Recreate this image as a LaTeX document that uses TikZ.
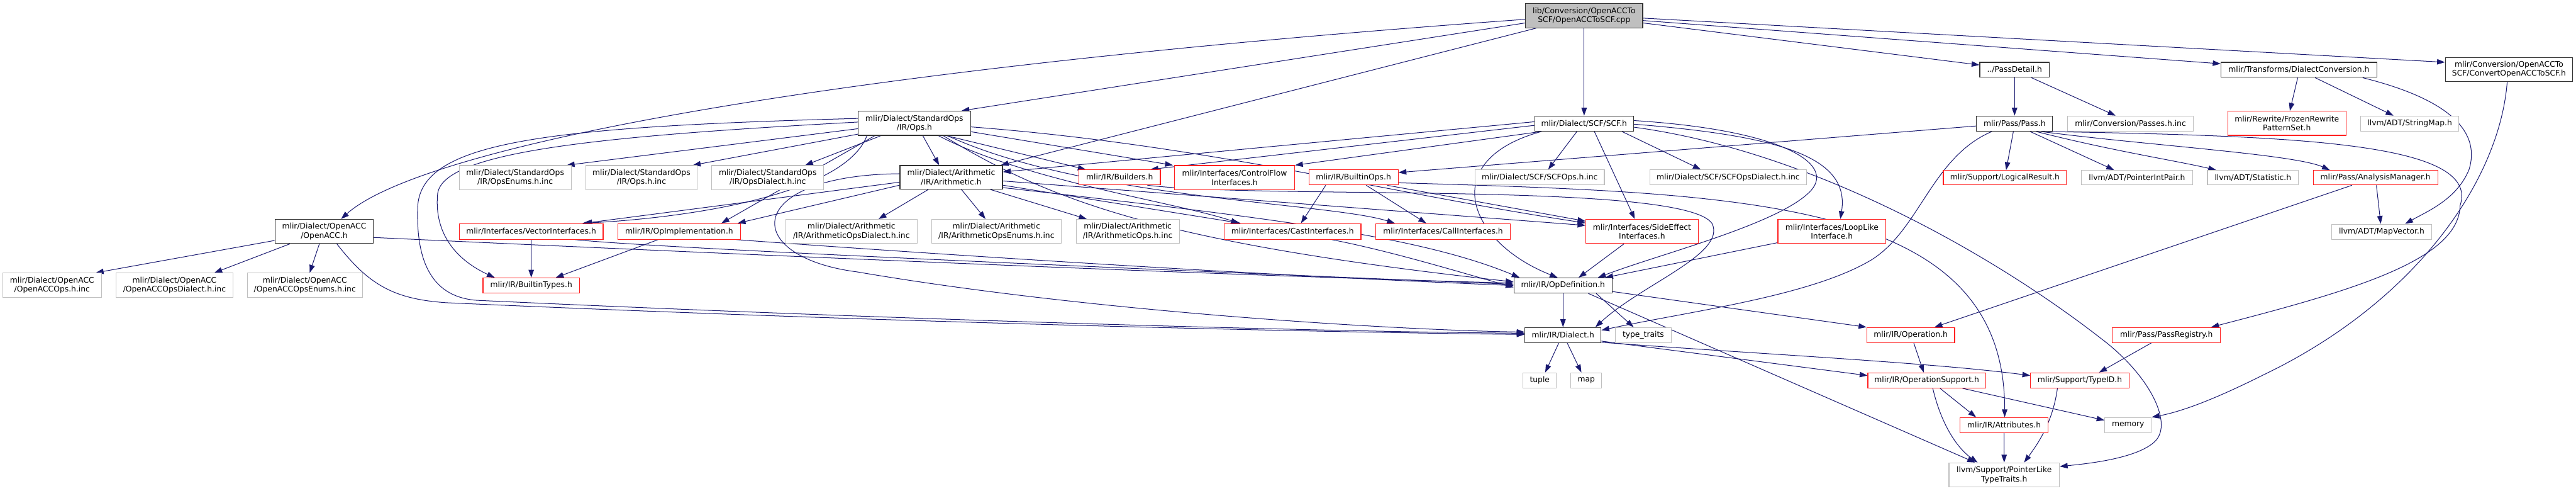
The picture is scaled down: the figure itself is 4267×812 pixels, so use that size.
\documentclass[tikz,border=0pt]{standalone}
\usepackage{fontspec}
\newfontfamily\dv{DejaVu Sans}
\usetikzlibrary{arrows.meta,calc,backgrounds}
\definecolor{eb}{HTML}{191970}
\definecolor{gb}{HTML}{BFBFBF}
\definecolor{rb}{HTML}{FF2020}
\begin{document}
\begin{tikzpicture}[x=1pt,y=-1pt,
  bx/.style={rectangle, inner sep=0pt, align=center, fill=white, text=black,
     font=\dv\fontsize{12.85pt}{15pt}\selectfont},
  nb/.style={bx, draw=black!80, line width=1.3pt},
  ng/.style={bx, draw=gb, line width=1.2pt},
  nr/.style={bx, draw=rb, line width=1.2pt},
  e/.style={draw=eb, line width=1.05pt, -{Triangle[length=13pt,width=9pt]}},
  sz/.style 2 args={minimum width=#1pt, minimum height=#2pt}
]
\useasboundingbox (0,0) rectangle (4267,812);

% ---------- nodes ----------
\node[nb, fill=gb, sz={194}{40}] (top) at (2624,26) {lib/Conversion/OpenACCTo\\SCF/OpenACCToSCF.cpp};
\node[nb, sz={163}{40}] (acc) at (537,383) {mlir/Dialect/OpenACC\\/OpenACC.h};
\node[nb, sz={186}{40}] (std) at (1514.6,204) {mlir/Dialect/StandardOps\\/IR/Ops.h};
\node[nb, sz={170}{39}] (arith) at (1575.6,293.5) {mlir/Dialect/Arithmetic\\/IR/Arithmetic.h};
\node[nb, sz={164}{25}] (scf) at (2624,204.5) {mlir/Dialect/SCF/SCF.h};
\node[nb, sz={115}{25}] (pd) at (3337,115.5) {../PassDetail.h};
\node[nb, sz={258}{25}] (dc) at (3808,115.5) {mlir/Transforms/DialectConversion.h};
\node[nb, sz={211}{40}] (conv) at (4156,115) {mlir/Conversion/OpenACCTo\\SCF/ConvertOpenACCToSCF.h};
\node[nb, sz={126}{25}] (pass) at (3337,204.5) {mlir/Pass/Pass.h};
\node[ng, sz={208}{25}] (passesinc) at (3529,204.5) {mlir/Conversion/Passes.h.inc};
\node[nr, sz={196}{40}] (frozen) at (3788,204) {mlir/Rewrite/FrozenRewrite\\PatternSet.h};
\node[ng, sz={162.5}{25}] (strmap) at (3991.6,204.5) {llvm/ADT/StringMap.h};
\node[ng, sz={185.5}{40}] (stdEnums) at (853.4,294) {mlir/Dialect/StandardOps\\/IR/OpsEnums.h.inc};
\node[ng, sz={185}{40}] (stdOpsinc) at (1062.5,294) {mlir/Dialect/StandardOps\\/IR/Ops.h.inc};
\node[ng, sz={185.5}{40}] (stdDialect) at (1271.7,294) {mlir/Dialect/StandardOps\\/IR/OpsDialect.h.inc};
\node[nr, sz={135}{25}] (builders) at (1854.5,293.5) {mlir/IR/Builders.h};
\node[nr, sz={199}{40}] (cfi) at (2045,294) {mlir/Interfaces/ControlFlow\\Interfaces.h};
\node[nr, sz={148}{25}] (builtinops) at (2242,293.5) {mlir/IR/BuiltinOps.h};
\node[ng, sz={214}{25}] (scfops) at (2550.5,293.5) {mlir/Dialect/SCF/SCFOps.h.inc};
\node[ng, sz={259.6}{25}] (scfdialect) at (2862.6,293.5) {mlir/Dialect/SCF/SCFOpsDialect.h.inc};
\node[nr, sz={204}{24}] (logres) at (3321,294) {mlir/Support/LogicalResult.h};
\node[ng, sz={184.5}{24}] (pip) at (3539.8,294) {llvm/ADT/PointerIntPair.h};
\node[ng, sz={150.7}{24}] (stat) at (3731.9,294) {llvm/ADT/Statistic.h};
\node[nr, sz={206.4}{24}] (am) at (3934.9,294) {mlir/Pass/AnalysisManager.h};
\node[nr, sz={238.4}{26}] (vec) at (879.8,383) {mlir/Interfaces/VectorInterfaces.h};
\node[nr, sz={202.5}{26}] (opimpl) at (1125,383) {mlir/IR/OpImplementation.h};
\node[ng, sz={217.4}{40}] (arDialect) at (1410.3,383) {mlir/Dialect/Arithmetic\\/IR/ArithmeticOpsDialect.h.inc};
\node[ng, sz={215}{40}] (arEnums) at (1650.5,383) {mlir/Dialect/Arithmetic\\/IR/ArithmeticOpsEnums.h.inc};
\node[ng, sz={171}{40}] (arOps) at (1868,383) {mlir/Dialect/Arithmetic\\/IR/ArithmeticOps.h.inc};
\node[nr, sz={226.6}{26}] (cast) at (2141,383) {mlir/Interfaces/CastInterfaces.h};
\node[nr, sz={222.8}{26}] (call) at (2390.4,383) {mlir/Interfaces/CallInterfaces.h};
\node[nr, sz={186.3}{40}] (side) at (2719.9,383) {mlir/Interfaces/SideEffect\\Interfaces.h};
\node[nr, sz={178.7}{40}] (loop) at (3034.4,383) {mlir/Interfaces/LoopLike\\Interface.h};
\node[ng, sz={165}{25}] (mapvec) at (3945,383.5) {llvm/ADT/MapVector.h};
\node[ng, sz={163.4}{40}] (accOps) at (86.3,472) {mlir/Dialect/OpenACC\\/OpenACCOps.h.inc};
\node[ng, sz={194}{40}] (accDialect) at (289,472) {mlir/Dialect/OpenACC\\/OpenACCOpsDialect.h.inc};
\node[ng, sz={191}{40}] (accEnums) at (505,472) {mlir/Dialect/OpenACC\\/OpenACCOpsEnums.h.inc};
\node[nr, sz={160}{25}] (btypes) at (880,472.5) {mlir/IR/BuiltinTypes.h};
\node[nb, sz={162.6}{25}] (opdef) at (2589,472.5) {mlir/IR/OpDefinition.h};
\node[nb, sz={126}{25}] (dialect) at (2589,554.5) {mlir/IR/Dialect.h};
\node[ng, sz={92.6}{25}] (tt) at (2722,554.5) {type\_traits};
\node[ng, sz={55}{25}] (tuple) at (2550.5,629.5) {tuple};
\node[ng, sz={51}{25}] (map) at (2627.5,629.5) {map};
\node[nr, sz={145.5}{25}] (operation) at (3165,554.5) {mlir/IR/Operation.h};
\node[nr, sz={179}{25}] (preg) at (3588.5,554.5) {mlir/Pass/PassRegistry.h};
\node[nr, sz={195}{25}] (opsupport) at (3191.5,629.5) {mlir/IR/OperationSupport.h};
\node[nr, sz={163}{25}] (typeid) at (3445,629.5) {mlir/Support/TypeID.h};
\node[nr, sz={145.6}{25}] (attrs) at (3319.6,703.5) {mlir/IR/Attributes.h};
\node[ng, sz={77}{25}] (memory) at (3525,703.5) {memory};
\node[ng, sz={183}{40}] (plt) at (3319.8,786) {llvm/Support/PointerLike\\TypeTraits.h};

% ---------- edges ----------
\begin{pgfonlayer}{background}
% top
\draw[e] ($(top.west)+(0,6)$) .. controls (1300,120) and (690,250) .. ($(acc.north)+(28,0)$);
\draw[e] ($(top.west)+(0,12)$) -- ($(std.north)+(78,0)$);
\draw[e] ($(top.south west)+(18,0)$) -- ($(arith.north)+(82,0)$);
\draw[e] (top) -- (scf);
\draw[e] ($(top.east)+(0,4)$) -- ($(conv.west)+(0,-12)$);
\draw[e] ($(top.east)+(0,8)$) -- ($(dc.west)+(0,-10)$);
\draw[e] ($(top.east)+(0,12)$) -- ($(pd.west)+(0,-8)$);
% acc
\draw[e] ($(acc.west)+(0,15)$) -- ($(accOps.north east)+(-10,0)$);
\draw[e] ($(acc.south)+(-57,0)$) -- ($(accDialect.north)+(66,0)$);
\draw[e] ($(acc.south)+(-8,0)$) -- ($(accEnums.north)+(8,0)$);
\draw[e] ($(acc.south)+(21,0)$) .. controls (610,470) and (650,495) .. (740,501) .. controls (1500,535) and (2200,550) .. ($(dialect.west)+(0,-1)$);
\draw[e] ($(acc.east)+(0,10)$) .. controls (1200,420) and (2000,455) .. ($(opdef.west)+(0,-4)$);
% std
\draw[e] ($(std.west)+(0,9)$) -- ($(stdEnums.north east)+(-8,0)$);
\draw[e] ($(std.west)+(0,18)$) -- ($(stdOpsinc.north east)+(-8,0)$);
\draw[e] ($(std.south west)+(38,0)$) -- ($(stdDialect.north)+(62,0)$);
\draw[e] ($(std.south)+(14,0)$) -- ($(arith.north)+(-20,0)$);
\draw[e] ($(std.south east)+(-40,0)$) -- ($(builders.north west)+(12,0)$);
\draw[e] ($(std.east)+(0,14)$) -- ($(cfi.north west)+(-2,0)$);
\draw[e] ($(std.west)+(0,-2)$) .. controls (1000,225) and (735,250) .. (725,320) .. controls (718,390) and (760,432) .. ($(btypes.north west)+(20,0)$);
\draw[e] ($(std.west)+(0,-8)$) .. controls (900,210) and (700,235) .. (692,340) .. controls (688,440) and (720,492) .. (790,497) .. controls (1500,530) and (2200,549) .. ($(dialect.west)+(0,-3)$);
\draw[e] ($(std.south west)+(15,0)$) .. controls (1400,320) and (1150,360) .. ($(vec.north)+(85,0)$);
\draw[e] ($(std.south west)+(28,0)$) -- ($(opimpl.north)+(70,0)$);
\draw[e] ($(std.south)+(40,0)$) .. controls (1700,300) and (1950,335) .. ($(cast.north)+(-89,0)$);
\draw[e] ($(std.south)+(55,0)$) .. controls (1800,330) and (2200,335) .. ($(call.north)+(-80,0)$);
\draw[e] ($(std.east)+(0,6)$) .. controls (2000,240) and (2300,320) .. ($(side.west)+(0,-14)$);
\draw[e] ($(std.south)+(48,0)$) .. controls (1750,340) and (1950,405) .. ($(opdef.west)+(0,-6)$);
% arith
\draw[e] ($(arith.south)+(-38,0)$) -- ($(arDialect.north)+(45,0)$);
\draw[e] ($(arith.south)+(17,0)$) -- ($(arEnums.north)+(-18,0)$);
\draw[e] ($(arith.south)+(65,0)$) -- ($(arOps.north)+(-68,0)$);
\draw[e] ($(arith.west)+(0,8)$) -- ($(vec.north)+(88,0)$);
\draw[e] ($(arith.west)+(0,13)$) -- ($(opimpl.north)+(97,0)$);
\draw[e] ($(arith.east)+(0,13)$) -- ($(cast.north)+(-86,0)$);
\draw[e] ($(arith.east)+(0,6)$) -- ($(side.west)+(0,-10)$);
\draw[e] ($(arith.east)+(0,17)$) .. controls (2100,360) and (2350,390) .. ($(opdef.north west)+(10,0)$);
\draw[e] ($(arith.west)+(0,-6)$) .. controls (1230,290) and (1225,425) .. (1420,450) .. controls (1800,515) and (2300,546) .. ($(dialect.west)+(0,-5)$);
% scf
\draw[e] ($(scf.west)+(0,-3)$) -- ($(arith.east)+(0,-9)$);
\draw[e] ($(scf.west)+(0,3)$) -- ($(builders.north east)+(-17,0)$);
\draw[e] ($(scf.south west)+(12,0)$) -- (cfi.north east);
\draw[e] ($(scf.south)+(-12,0)$) -- ($(scfops.north)+(14,0)$);
\draw[e] ($(scf.south)+(17,0)$) -- ($(side.north)+(-12,0)$);
\draw[e] ($(scf.south east)+(-20,0)$) -- ($(scfdialect.north west)+(85,0)$);
\draw[e] ($(scf.south west)+(12,0)$) .. controls (2380,265) and (2430,400) .. ($(opdef.north)+(-9,0)$);
\draw[e] ($(scf.east)+(0,-5)$) .. controls (2950,215) and (3040,270) .. (3000,315) .. controls (2950,370) and (2750,420) .. ($(opdef.north east)+(-24,0)$);
\draw[e] ($(scf.east)+(0,1)$) .. controls (2950,225) and (3065,260) .. ($(loop.north)+(14,0)$);
\draw[e] ($(scf.east)+(0,6)$) .. controls (3000,250) and (3300,420) .. (3480,560) .. controls (3560,620) and (3600,700) .. (3570,730) .. controls (3540,760) and (3450,768) .. ($(plt.east)+(0,-14)$);
% builtinops
\draw[e] ($(builtinops.south)+(-46,0)$) -- ($(cast.north)+(14,0)$);
\draw[e] ($(builtinops.south)+(21,0)$) -- ($(call.north)+(-28,0)$);
\draw[e] ($(builtinops.south east)+(-19,0)$) -- ($(side.west)+(0,-17)$);
\draw[e] ($(builtinops.east)+(0,9)$) .. controls (2900,320) and (3321,330) .. ($(attrs.north)+(1,0)$);
% builders
\draw[e] ($(builders.south east)+(-22,0)$) .. controls (2100,330) and (2790,300) .. (2836,370) .. controls (2860,420) and (2720,470) .. ($(dialect.north east)+(-10,0)$);
% pass
\draw[e] ($(pass.west)+(0,4)$) -- ($(builtinops.east)+(0,-8)$);
\draw[e] ($(pass.south west)+(26,0)$) .. controls (3200,260) and (3180,380) .. (3100,430) .. controls (3000,490) and (2800,515) .. ($(dialect.east)+(0,-8)$);
\draw[e] ($(pass.south)+(-2,0)$) -- ($(logres.north)+(2,0)$);
\draw[e] ($(pass.south east)+(-38,0)$) -- ($(pip.north west)+(55,0)$);
\draw[e] ($(pass.south east)+(-28,0)$) .. controls (3500,250) and (3600,265) .. ($(stat.north west)+(15,0)$);
\draw[e] ($(pass.south east)+(-20,0)$) .. controls (3550,240) and (3800,255) .. ($(am.north west)+(28,0)$);
\draw[e] ($(pass.south east)+(-12,0)$) .. controls (3800,225) and (4110,235) .. (4075,340) .. controls (4073,430) and (3900,480) .. ($(preg.north east)+(-16,0)$);
% pd, dc
\draw[e] (pd) -- (pass);
\draw[e] ($(pd.south east)+(-30,0)$) -- ($(passesinc.north west)+(80,0)$);
\draw[e] ($(dc.south)+(-2,0)$) -- ($(frozen.north)+(5,0)$);
\draw[e] ($(dc.south)+(27,0)$) -- ($(strmap.north west)+(55,0)$);
\draw[e] ($(dc.south east)+(-24,0)$) .. controls (4080,170) and (4105,230) .. (4090,280) .. controls (4070,330) and (4020,350) .. ($(mapvec.north)+(39,0)$);
% conv
\draw[e] ($(conv.south)+(-3,0)$) .. controls (4140,300) and (4000,500) .. (3750,620) .. controls (3680,655) and (3620,680) .. (memory.north east);
% am, preg
\draw[e] ($(am.south)+(-39,0)$) -- ($(operation.north east)+(-34,0)$);
\draw[e] (am) -- (mapvec);
\draw[e] ($(preg.south west)+(65,0)$) -- ($(typeid.north)+(32,0)$);
% opdef
\draw[e] (opdef) -- (dialect);
\draw[e] ($(opdef.south)+(55,0)$) -- ($(tt.north)+(-16,0)$);
\draw[e] ($(opdef.east)+(0,10)$) -- (operation.north west);
\draw[e] ($(opdef.south east)+(-40,0)$) -- ($(plt.north west)+(44,0)$);
% dialect
\draw[e] ($(dialect.south)+(-7,0)$) -- ($(tuple.north)+(9,0)$);
\draw[e] ($(dialect.south)+(7,0)$) -- ($(map.north)+(-8,0)$);
\draw[e] ($(dialect.east)+(0,10)$) -- ($(opsupport.west)+(0,-8)$);
\draw[e] ($(dialect.east)+(0,12)$) .. controls (2900,585) and (3200,600) .. ($(typeid.west)+(0,-8)$);
% operation, opsupport, typeid, attrs
\draw[e] ($(operation.south)+(5,0)$) -- ($(opsupport.north)+(-5,0)$);
\draw[e] ($(opsupport.south)+(22,0)$) -- ($(attrs.north west)+(27,0)$);
\draw[e] ($(opsupport.south east)+(-39,0)$) -- ($(memory.west)+(0,-8)$);
\draw[e] ($(opsupport.south)+(10,0)$) .. controls (3215,700) and (3240,740) .. ($(plt.north west)+(48,0)$);
\draw[e] ($(typeid.south)+(-37,0)$) .. controls (3400,700) and (3375,735) .. ($(plt.north)+(33,0)$);
\draw[e] (attrs) -- (plt);
% vec, opimpl, cast, side, loop
\draw[e] (vec) -- (btypes);
\draw[e] ($(opimpl.south)+(-35,0)$) -- ($(btypes.north east)+(-40,0)$);
\draw[e] ($(vec.south east)+(-47,0)$) .. controls (1100,412) and (2000,450) .. ($(opdef.west)+(0,-2)$);
\draw[e] ($(opimpl.south east)+(-7,0)$) .. controls (1400,410) and (2000,452) .. (opdef.west);
\draw[e] ($(cast.south)+(65,0)$) .. controls (2300,415) and (2400,445) .. ($(opdef.west)+(0,3)$);
\draw[e] ($(side.south)+(-30,0)$) -- ($(opdef.north east)+(-56,0)$);
\draw[e] ($(loop.south west)+(0,-2)$) -- ($(opdef.north east)+(-12,0)$);
\end{pgfonlayer}
\end{tikzpicture}
\end{document}
